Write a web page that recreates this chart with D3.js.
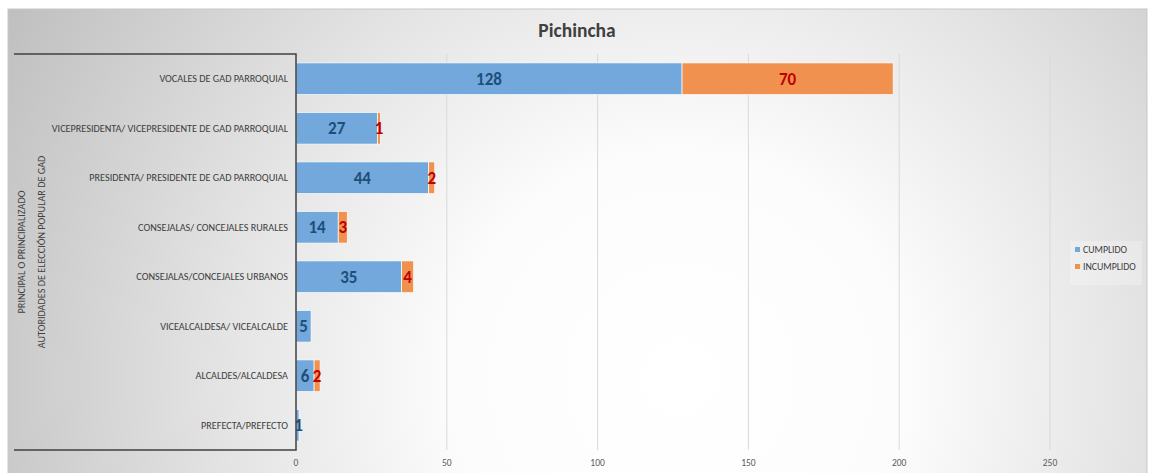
<!DOCTYPE html>
<html><head><meta charset="utf-8">
<script src="https://cdn.jsdelivr.net/npm/d3@7"></script>
<style>body{margin:0;background:#fff;}svg{display:block;font-family:Calibri,Carlito,"Liberation Sans","Open Sans",sans-serif;}</style>
</head><body>
<script>
const categories = ["VOCALES DE GAD PARROQUIAL","VICEPRESIDENTA/ VICEPRESIDENTE DE GAD PARROQUIAL","PRESIDENTA/ PRESIDENTE DE GAD PARROQUIAL","CONSEJALAS/ CONCEJALES RURALES","CONSEJALAS/CONCEJALES URBANOS","VICEALCALDESA/ VICEALCALDE","ALCALDES/ALCALDESA","PREFECTA/PREFECTO"];
const cumplido = [128,27,44,14,35,5,6,1];
const incumplido = [70,1,2,3,4,0,2,0];
const xTicks = [0,50,100,150,200,250];
const seriesNames = ["CUMPLIDO","INCUMPLIDO"];
const groupLabels = ["PRINCIPAL O PRINCIPALIZADO","AUTORIDADES DE ELECCIÓN POPULAR DE GAD"];
const title = "Pichincha";

const W=1151,H=473;
const svg=d3.select("body").append("svg").attr("width",W).attr("height",H);
const defs=svg.append("defs");
const rg=defs.append("radialGradient").attr("id","bg").attr("gradientUnits","userSpaceOnUse")
  .attr("cx",680).attr("cy",380).attr("r",760);
rg.append("stop").attr("offset","0").attr("stop-color","#ffffff");
rg.append("stop").attr("offset","0.3").attr("stop-color","#fcfcfc");
rg.append("stop").attr("offset","0.6").attr("stop-color","#e4e4e4");
rg.append("stop").attr("offset","1").attr("stop-color","#c0c0c0");
svg.append("rect").attr("x",8).attr("y",9).attr("width",1139).attr("height",470).attr("fill","url(#bg)").attr("stroke","#c8c8c8");

const x=d3.scaleLinear().domain([0,250]).range([296,1050]);
const y=d3.scaleBand().domain(categories).range([54,450]).paddingInner(0.36).paddingOuter(0.18);

// gridlines
svg.append("g").selectAll("line").data(xTicks.filter(d=>d>0)).join("line")
  .attr("x1",d=>x(d)).attr("x2",d=>x(d)).attr("y1",54).attr("y2",450)
  .attr("stroke","#d9d9d9").attr("stroke-width",1);

// tick labels
svg.append("g").selectAll("text").data(xTicks).join("text")
  .attr("x",d=>x(d)).attr("y",466).attr("text-anchor","middle")
  .attr("font-size",9.5).attr("fill","#595959").text(d=>d);

// bars
const gb=svg.append("g");
gb.selectAll("rect.c").data(categories).join("rect").attr("class","c")
  .attr("x",x(0)).attr("y",d=>y(d)).attr("height",y.bandwidth())
  .attr("width",(d,i)=>x(cumplido[i])-x(0)).attr("fill","#72a8db").attr("stroke","#ffffff").attr("stroke-width",0.7);
gb.selectAll("rect.i").data(categories).join("rect").attr("class","i")
  .attr("x",(d,i)=>x(cumplido[i])).attr("y",d=>y(d)).attr("height",y.bandwidth())
  .attr("width",(d,i)=>x(cumplido[i]+incumplido[i])-x(cumplido[i])).attr("fill","#f0914f").attr("stroke","#ffffff").attr("stroke-width",0.7)
  .style("display",(d,i)=>incumplido[i]>0?null:"none");

// data labels
gb.selectAll("text.c").data(categories).join("text").attr("class","c")
  .attr("x",(d,i)=>x(cumplido[i]/2)+(cumplido[i]<3?1:0)).attr("y",d=>y(d)+y.bandwidth()/2+6)
  .attr("text-anchor","middle").attr("font-size",17).attr("font-weight","bold").attr("fill","#1f4e79")
  .text((d,i)=>cumplido[i]);
gb.selectAll("text.i").data(categories.filter((d,i)=>incumplido[i]>0)).join("text").attr("class","i")
  .attr("x",d=>{const i=categories.indexOf(d);return x(cumplido[i]+incumplido[i]/2);})
  .attr("y",d=>y(d)+y.bandwidth()/2+6)
  .attr("text-anchor","middle").attr("font-size",17).attr("font-weight","bold").attr("fill","#c00000")
  .text(d=>incumplido[categories.indexOf(d)]);

// bracket / axis
svg.append("path").attr("d","M14,54H296V450H14").attr("fill","none").attr("stroke","#404040").attr("stroke-width",1.5);

// category labels
svg.append("g").selectAll("text").data(categories).join("text")
  .attr("x",288).attr("y",d=>y(d)+y.bandwidth()/2+3.5).attr("text-anchor","end")
  .attr("font-size",10.2).attr("fill","#404040").text(d=>d);

// group labels rotated
groupLabels.forEach((t,k)=>{
  svg.append("text").attr("transform",`translate(${25+k*20},252) rotate(-90)`)
    .attr("text-anchor","middle").attr("font-size",10.2).attr("fill","#404040").text(t);
});

// title
svg.append("text").attr("x",577).attr("y",37).attr("text-anchor","middle")
  .attr("font-size",19.5).attr("font-weight","bold").attr("fill","#404040").text(title);

// legend
const lg=svg.append("g");
lg.append("rect").attr("x",1070).attr("y",241).attr("width",72).attr("height",44).attr("fill","#ffffff").attr("fill-opacity",0.25);
const colors=["#72a8db","#f0914f"];
seriesNames.forEach((s,i)=>{
  lg.append("rect").attr("x",1075).attr("y",247+i*17).attr("width",5).attr("height",5).attr("fill",colors[i]);
  lg.append("text").attr("x",1083).attr("y",253+i*17).attr("font-size",9.8).attr("fill","#404040").text(s);
});
</script>
</body></html>
